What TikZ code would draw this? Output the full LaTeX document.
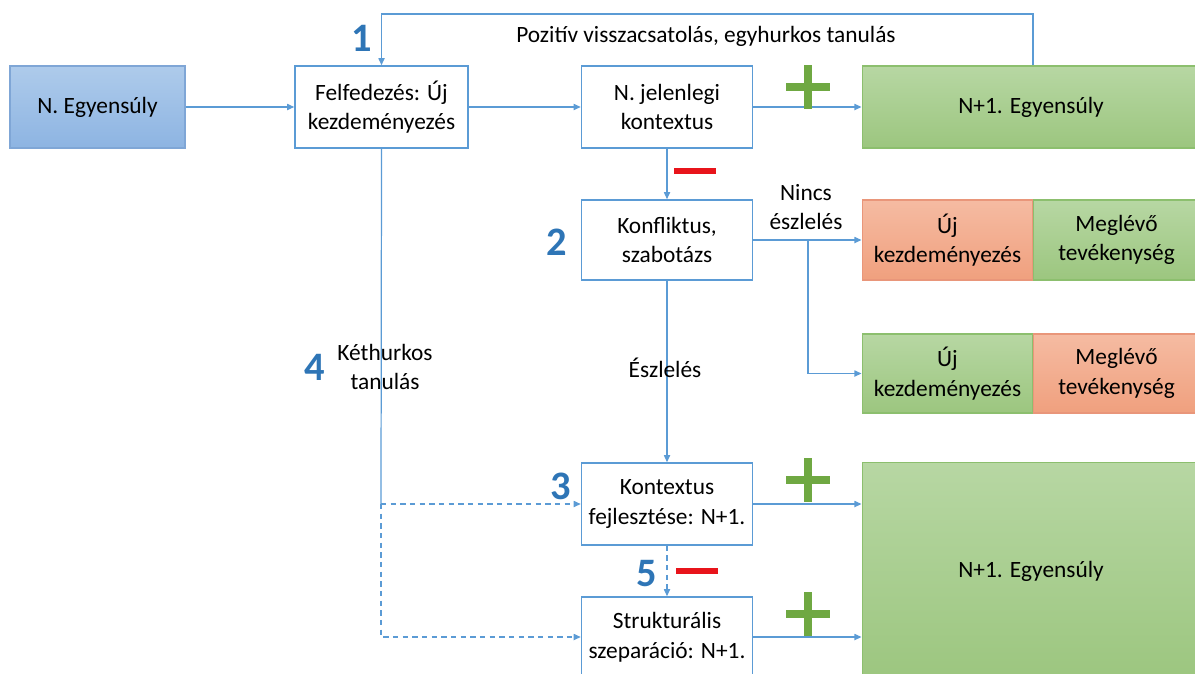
\documentclass[tikz,border=0pt]{standalone}
\usepackage{fontspec}
\setmainfont{Carlito}
\usetikzlibrary{arrows.meta,calc}
\definecolor{bord}{HTML}{5B9BD5}
\definecolor{numc}{HTML}{2E75B6}
\definecolor{plusg}{HTML}{6FA842}
\definecolor{minr}{HTML}{E8141B}
\definecolor{gtop}{HTML}{B7D7A3}
\definecolor{gbot}{HTML}{9CC67F}
\definecolor{gbord}{HTML}{8CBF6E}
\definecolor{stop}{HTML}{F5BBA2}
\definecolor{sbot}{HTML}{F0A07E}
\definecolor{sbord}{HTML}{E9967A}
\definecolor{btop}{HTML}{AECBEB}
\definecolor{bbot}{HTML}{8DB4E2}
\definecolor{bbord}{HTML}{7FA6D6}
\tikzset{
  txt/.style={font=\fontsize{13.3}{16.8}\selectfont, align=center, text=black},
  wbox/.style={txt, draw=bord, line width=0.9pt, fill=white, rectangle, inner sep=0pt},
  gbox/.style={txt, draw=gbord, line width=0.6pt, top color=gtop, bottom color=gbot, rectangle, inner sep=0pt},
  sbox/.style={txt, draw=sbord, line width=0.6pt, top color=stop, bottom color=sbot, rectangle, inner sep=0pt},
  bbox/.style={txt, draw=bbord, line width=0.6pt, top color=btop, bottom color=bbot, rectangle, inner sep=0pt},
  arr/.style={draw=bord, line width=0.7pt, -{Triangle[length=4pt,width=3.5pt]}},
  ln/.style={draw=bord, line width=0.7pt},
  dsh/.style={dash pattern=on 3pt off 2.5pt},
  num/.style={font=\fontsize{23}{25}\selectfont\bfseries, text=numc},
  plussign/.style={draw=plusg, line width=5pt},
  minussign/.style={draw=minr, line width=3.4pt},
}
\begin{document}
\begin{tikzpicture}[x=0.02cm,y=-0.02cm]
\useasboundingbox (0,0) rectangle (1195,673);
% nodes
\node[bbox, minimum width=3.5cm, minimum height=1.64cm] (negy) at (97.5,107) {N. Egyensúly};
\node[wbox, minimum width=3.46cm, minimum height=1.64cm] (felf) at (381.5,107) {Felfedezés: Új\\kezdeményezés};
\node[wbox, minimum width=3.42cm, minimum height=1.64cm] (njel) at (667,107) {N. jelenlegi\\kontextus};
\node[gbox, minimum width=6.76cm, minimum height=1.64cm] (np1a) at (1031,107) {N+1. Egyensúly};
\node[wbox, minimum width=3.42cm, minimum height=1.6cm] (konf) at (667,240) {Konfliktus,\\szabotázs};
\node[sbox, minimum width=3.42cm, minimum height=1.6cm] (uj1) at (947.5,240) {Új\\kezdeményezés};
\node[gbox, minimum width=3.34cm, minimum height=1.6cm] (meg1) at (1116.5,240) {Meglévő\\tevékenység};
\node[gbox, minimum width=3.42cm, minimum height=1.58cm] (uj2) at (947.5,373.5) {Új\\kezdeményezés};
\node[sbox, minimum width=3.34cm, minimum height=1.58cm] (meg2) at (1116.5,373.5) {Meglévő\\tevékenység};
\node[wbox, minimum width=3.42cm, minimum height=1.64cm] (kont) at (667,504) {Kontextus\\fejlesztése: N+1.};
\node[wbox, minimum width=3.42cm, minimum height=1.6cm] (strukt) at (667,637) {Strukturális\\szeparáció: N+1.};
\node[gbox, minimum width=6.76cm, minimum height=4.34cm] (np1b) at (1031,571) {N+1. Egyensúly};
% connectors
\draw[arr] (negy.east) -- (felf.west);
\draw[arr] (felf.east) -- (njel.west);
\draw[arr] (njel.east) -- (np1a.west);
\coordinate (fbR) at (1033,14);
\draw[arr] (np1a.north -| fbR) -- (fbR) -| (felf.north);
\draw[arr] (njel.south) -- (konf.north);
\draw[arr] (konf.east) -- (uj1.west);
\coordinate (br) at (808,240);
\draw[arr] (br) |- (uj2.west);
\draw[arr] (konf.south) -- (kont.north);
\coordinate (k4) at (381,504);
\draw[ln] (felf.south) -- (k4);
\draw[arr, dsh] (k4) -- (kont.west);
\draw[arr, dsh] (k4) |- (strukt.west);
\draw[arr, dsh] (kont.south) -- (strukt.north);
\draw[arr] (kont.east) -- (kont.east -| np1b.west);
\draw[arr] (strukt.east) -- (strukt.east -| np1b.west);
% labels
\node[txt] (lpos) at (706,36) {Pozitív visszacsatolás, egyhurkos tanulás};
\node[txt] (lnincs) at (806,207) {Nincs\\észlelés};
\node[txt] (lesz) at (665,368) {Észlelés};
\node[txt] (lket) at (385,367) {Kéthurkos\\tanulás};
\node[num] (n1) at (362,38) {1};
\node[num] (n2) at (557,242) {2};
\node[num] (n3) at (561,486) {3};
\node[num] (n4) at (315,367) {4};
\node[num] (n5) at (647,574) {5};
% plus / minus signs
\foreach \px/\py in {808/87, 808/480, 808/614} {
  \draw[plussign] (\px-22,\py) -- (\px+22,\py);
  \draw[plussign] (\px,\py-22) -- (\px,\py+22);
}
\draw[minussign] (674,171) -- (716,171);
\draw[minussign] (676,571) -- (718,571);
\end{tikzpicture}
\end{document}
